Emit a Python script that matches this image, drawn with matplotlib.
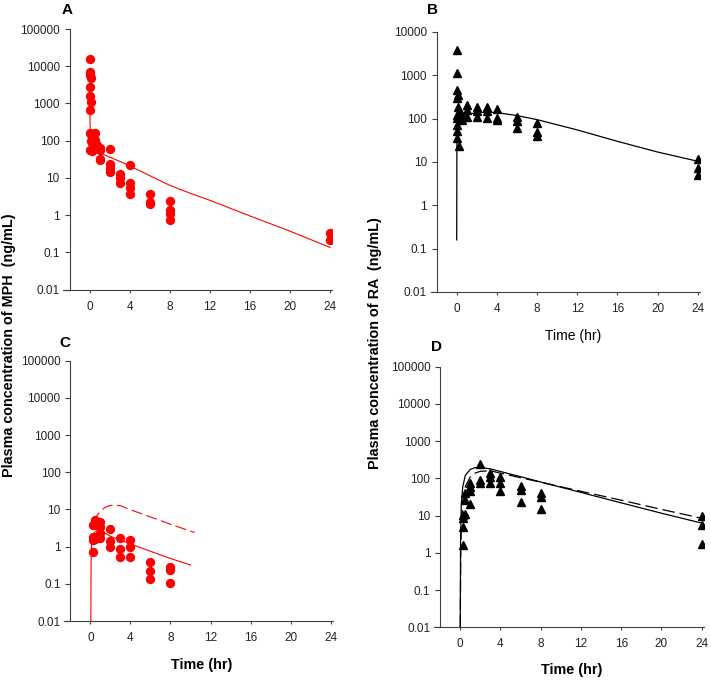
import numpy as np
import matplotlib.pyplot as plt

plt.rcParams['font.family'] = ['Liberation Sans', 'DejaVu Sans']

# ---- data ----
# A: MPH, red circles
a_x = [0.03, 0.03, 0.08, 0.17, 0.03, 0.03, 0.17, 0.03,
       0.08, 0.08, 0.17, 0.17, 0.25, 0.25, 0.25, 0.5, 0.5, 0.5, 0.5, 0.75, 0.75,
       1, 1, 1, 1, 2, 2, 2, 2, 3, 3, 3, 4, 4, 4, 4,
       6, 6, 6, 8, 8, 8, 8, 24, 24]
a_y = [15800, 7100, 5800, 4700, 2700, 1600, 1100, 650,
       158, 55, 150, 100, 129, 85, 52, 158, 105, 69, 60, 75, 60,
       65, 55, 33, 30, 60, 24, 18, 14, 13, 9.7, 7.4, 22, 7.1, 5.2, 3.6,
       3.6, 2.3, 2.0, 2.4, 1.36, 1.1, 0.72, 0.32, 0.21]
a_fit_x = [0.03, 0.05, 0.1, 0.25, 0.5, 1, 2, 3, 4, 6, 8, 10, 12, 16, 20, 24]
a_fit_y = [650, 300, 120, 75, 62, 48, 36, 28, 21, 11.5, 6.3, 3.9, 2.5, 0.95, 0.37, 0.135]

# B: RA, black triangles
b_x = [0.03, 0.03, 0.03, 0.08, 0.03, 0.17, 0.03, 0.03, 0.03, 0.03, 0.03,
       0.25, 0.33, 0.5, 0.5,
       1, 1, 1, 2, 2, 2, 3, 3, 3, 4, 4, 4,
       6, 6, 6, 8, 8, 8, 24, 24, 24]
b_y = [3800, 1150, 465, 350, 300, 186, 124, 104, 73, 51, 36,
       24, 135, 95, 120,
       210, 160, 112, 182, 147, 112, 182, 147, 104, 166, 102, 93,
       112, 87, 60, 79, 50, 39, 12, 7.3, 5.1]
b_fit_x = [0, 0.02, 0.1, 0.25, 0.5, 1, 2, 3, 4, 6, 8, 12, 16, 20, 24]
b_fit_y = [0.16, 30, 80, 100, 112, 125, 138, 142, 138, 118, 95, 55, 30, 17, 10.4]

# C: MPH, red circles
c_x = [0.25, 0.25, 0.25, 0.25, 0.5, 0.5, 0.67, 0.5,
       1, 1, 1, 1, 2, 2, 2, 3, 3, 3, 4, 4, 4,
       6, 6, 6, 8, 8, 8]
c_y = [0.72, 3.7, 1.86, 1.5, 5.2, 3.8, 1.86, 1.57,
       4.7, 3.45, 2.28, 1.67, 2.98, 1.45, 1.0, 1.75, 0.88, 0.52, 1.5, 0.98, 0.54,
       0.39, 0.226, 0.138, 0.29, 0.24, 0.107]
c_fit_x = [0.05, 0.07, 0.1, 0.2, 0.4, 0.7, 1, 2, 4, 6, 8, 10]
c_fit_y = [0.01, 0.3, 0.9, 1.8, 2.4, 2.7, 2.7, 1.9, 1.18, 0.75, 0.48, 0.32]
c_dash_x = [0.4, 0.6, 1, 1.5, 2, 2.5, 3, 4, 6, 8, 10.4]
c_dash_y = [4.5, 6.5, 9, 11.5, 12.8, 13, 12.6, 9.8, 6.3, 4.0, 2.4]

# D: RA, black triangles
d_x = [0.25, 0.25, 0.25, 0.25, 0.5, 0.5, 0.5,
       1, 1, 1, 1, 2, 2, 2, 3, 3, 3, 4, 4, 4,
       6, 6, 6, 8, 8, 8, 24, 24, 24]
d_y = [10.3, 8.4, 5.0, 1.6, 41, 26, 11,
       76, 60, 46, 21, 238, 90, 73, 141, 106, 76, 106, 76, 46,
       62, 48.5, 23.5, 41, 32, 14.6, 9.8, 5.6, 1.74]
d_fit_x = [0, 0.03, 0.1, 0.25, 0.5, 1, 1.5, 2, 3, 4, 6, 8, 12, 16, 20, 24]
d_fit_y = [0.01, 2, 20, 60, 120, 175, 195, 195, 180, 153, 111, 80, 42, 22, 11.6, 6.3]
d_dash_x = [0, 0.05, 0.1, 0.25, 0.5, 1, 1.5, 2, 3, 4, 6, 8, 12, 16, 20, 24]
d_dash_y = [0.01, 1, 5, 25, 60, 110, 140, 155, 160, 138, 104, 79, 45, 26, 14.7, 8.5]

xticks = [0, 4, 8, 12, 16, 20, 24]
W, H = 711, 681


def px_axes(fig, left, top, width, bottom):
    return fig.add_axes([left / W, 1 - bottom / H, width / W, (bottom - top) / H])


def style(ax, ymax):
    ax.set_yscale('log')
    ax.set_xlim(-2.6, 24.2)
    ax.set_ylim(0.01, ymax)
    ax.spines['top'].set_visible(False)
    ax.spines['right'].set_visible(False)
    ax.spines['left'].set_position(('data', -2))
    for s in ['left', 'bottom']:
        ax.spines[s].set_color('#404040')
        ax.spines[s].set_linewidth(0.8)
    ax.set_xticks(xticks)
    ax.set_xticklabels([str(t) for t in xticks])
    yt = [10.0 ** k for k in range(-2, int(round(np.log10(ymax))) + 1)]
    labs = ['0.01', '0.1', '1', '10', '100', '1000', '10000', '100000'][:len(yt)]
    ax.set_yticks(yt)
    ax.set_yticklabels(labs)
    ax.yaxis.set_minor_locator(plt.NullLocator())
    ax.tick_params(axis='x', length=2.5, width=0.8, color='#404040', pad=5.5,
                   labelsize=8.5, labelcolor='#222222')
    ax.tick_params(axis='y', length=3.5, width=0.8, color='#404040', pad=3.5,
                   labelsize=8.5, labelcolor='#222222')


fig = plt.figure(figsize=(7.11, 6.81), dpi=100)

# A
ax = px_axes(fig, 63.5, 29, 268.5, 289.5)
style(ax, 1e5)
ax.plot(a_fit_x, a_fit_y, color='red', lw=0.8)
ax.plot(a_x, a_y, 'o', color='red', ms=5.7, mec='red')

# B
ax = px_axes(fig, 430.6, 32, 269.1, 292)
style(ax, 1e4)
ax.plot(b_fit_x, b_fit_y, color='black', lw=0.9)
ax.plot(b_x, b_y, '^', color='black', ms=5.7)

# C
ax = px_axes(fig, 64.3, 360.7, 268.5, 621)
style(ax, 1e5)
ax.plot(c_fit_x, c_fit_y, color='red', lw=0.8)
ax.plot(c_dash_x, c_dash_y, color='red', lw=0.8, dashes=(10, 4))
ax.plot(c_x, c_y, 'o', color='red', ms=5.7, mec='red')

# D
ax = px_axes(fig, 434.1, 366.7, 269.6, 627.3)
style(ax, 1e5)
ax.plot(d_fit_x, d_fit_y, color='black', lw=0.9)
ax.plot(d_dash_x, d_dash_y, color='black', lw=0.9, dashes=(10, 4))
ax.plot(d_x, d_y, '^', color='black', ms=5.7)

# texts
def ftext(x, y, s, **kw):
    fig.text(x / W, 1 - y / H, s, ha='center', va='center', **kw)

ftext(67, 10, 'A', fontsize=11, fontweight='bold')
ftext(433, 10, 'B', fontsize=11, fontweight='bold')
ftext(65, 343, 'C', fontsize=11, fontweight='bold')
ftext(437, 347, 'D', fontsize=11, fontweight='bold')
ftext(9, 345, 'Plasma concentration of MPH  (ng/mL)', rotation=90,
      fontsize=10.4, fontweight='bold')
ftext(375, 343, 'Plasma concentration of RA  (ng/mL)', rotation=90,
      fontsize=10.4, fontweight='bold')
ftext(573, 336, 'Time (hr)', fontsize=10)
ftext(202, 665, 'Time (hr)', fontsize=10.4, fontweight='bold')
ftext(572, 670, 'Time (hr)', fontsize=10.4, fontweight='bold')

plt.savefig('out.png', dpi=100)
